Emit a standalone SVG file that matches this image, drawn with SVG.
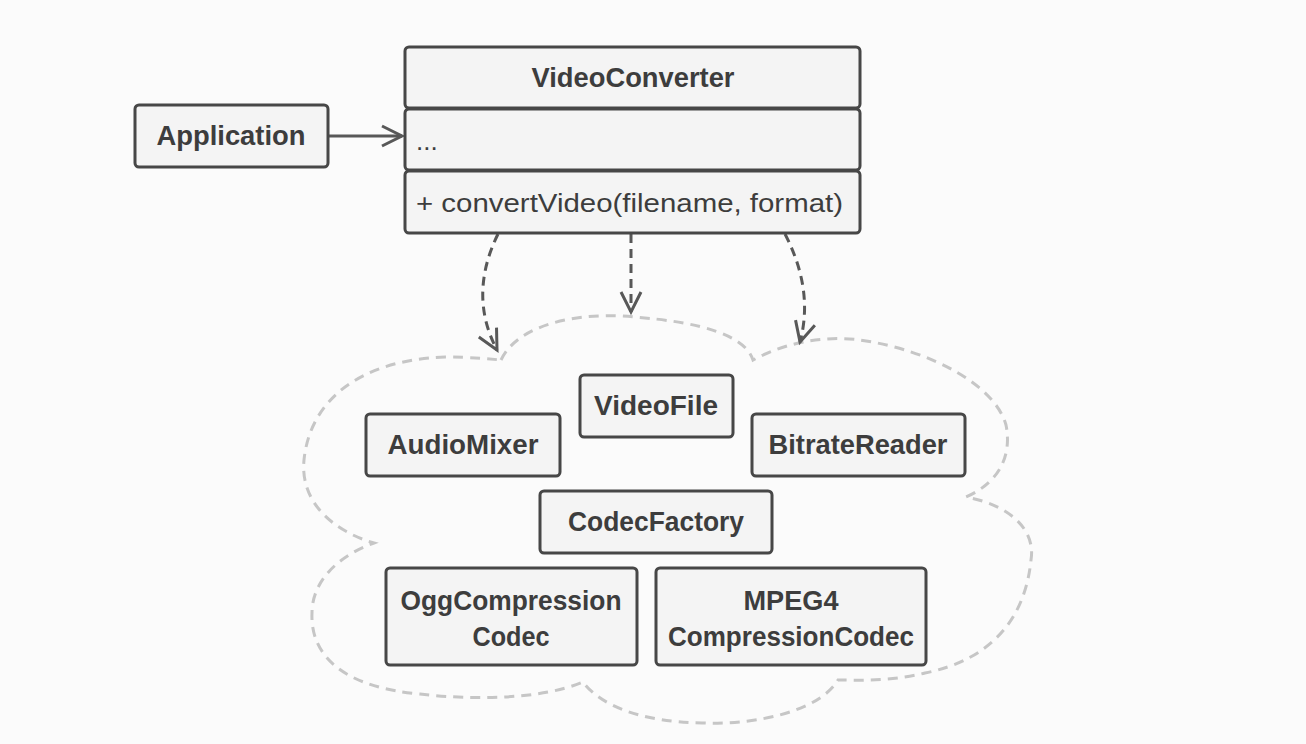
<svg xmlns="http://www.w3.org/2000/svg" width="1306" height="744" viewBox="0 0 1306 744">
<style>
.box{fill:#f4f4f4;stroke:#474747;stroke-width:3}
.t{font-family:"Liberation Sans",Arial,sans-serif;font-size:28px;font-weight:bold;fill:#3d3d3d;text-anchor:middle}
.r{font-family:"Liberation Sans",Arial,sans-serif;font-size:26px;fill:#3d3d3d}
.dep{fill:none;stroke:#585858;stroke-width:3;stroke-dasharray:9 6}
.cloud{fill:none;stroke:#c6c6c6;stroke-width:3;stroke-dasharray:10 7}
</style>
<defs>
<marker id="open" viewBox="-22 -12 26 24" refX="0" refY="0" markerWidth="26" markerHeight="24" markerUnits="userSpaceOnUse" orient="auto">
<path d="M-20,-10 L0,0 L-20,10" fill="none" stroke="#585858" stroke-width="3"/>
</marker>
</defs>
<rect width="1306" height="744" fill="#fbfbfb"/>
<g id="cloud">
<path class="cloud" d="M501,360 C520,320 590,312 634,317 C700,322 745,335 753,360 C790,340 830,336 860,340 C930,350 995,385 1006,425 C1012,455 1000,482 966,497 C1010,505 1036,530 1031,560 C1025,620 990,660 925,673 C890,682 850,680 838,680 C820,710 760,725 702,723 C640,722 600,705 583,682 C540,700 470,700 420,694 C350,688 310,660 312,613 C312,580 340,555 374,543 C330,530 300,500 304,460 C310,400 360,360 445,357 C470,357 490,359 501,360 Z"/>
</g>
<g id="connectors">
<line x1="329" y1="136" x2="402" y2="136" stroke="#585858" stroke-width="3" marker-end="url(#open)"/>
<path class="dep" d="M498,234 Q468,295 497,350" marker-end="url(#open)"/>
<path class="dep" d="M631,234 L631,312" marker-end="url(#open)"/>
<path class="dep" d="M785,234 Q814,290 800,342" marker-end="url(#open)"/>
</g>
<g id="application">
<rect class="box" x="135" y="105" width="193" height="62" rx="4"/>
<text class="t" x="231" y="145" textLength="149" lengthAdjust="spacingAndGlyphs">Application</text>
</g>
<g id="videoconverter">
<rect class="box" x="405" y="47" width="455" height="61" rx="4"/>
<rect class="box" x="405" y="109" width="455" height="61" rx="4"/>
<rect class="box" x="405" y="171" width="455" height="62" rx="4"/>
<text class="t" x="633" y="87" textLength="203" lengthAdjust="spacingAndGlyphs">VideoConverter</text>
<text class="r" x="416" y="150">...</text>
<text class="r" x="416" y="212" textLength="427" lengthAdjust="spacingAndGlyphs">+ convertVideo(filename, format)</text>
</g>
<g id="videofile">
<rect class="box" x="580" y="375" width="153" height="62" rx="4"/>
<text class="t" x="656" y="415" textLength="124" lengthAdjust="spacingAndGlyphs">VideoFile</text>
</g>
<g id="audiomixer">
<rect class="box" x="366" y="414" width="194" height="62" rx="4"/>
<text class="t" x="463" y="454" textLength="151" lengthAdjust="spacingAndGlyphs">AudioMixer</text>
</g>
<g id="bitratereader">
<rect class="box" x="752" y="414" width="213" height="62" rx="4"/>
<text class="t" x="858" y="454" textLength="179" lengthAdjust="spacingAndGlyphs">BitrateReader</text>
</g>
<g id="codecfactory">
<rect class="box" x="540" y="491" width="232" height="62" rx="4"/>
<text class="t" x="656" y="531" textLength="176" lengthAdjust="spacingAndGlyphs">CodecFactory</text>
</g>
<g id="oggcodec">
<rect class="box" x="386" y="568" width="251" height="97" rx="4"/>
<text class="t" x="511" y="610" textLength="221" lengthAdjust="spacingAndGlyphs">OggCompression</text>
<text class="t" x="511" y="646" textLength="77" lengthAdjust="spacingAndGlyphs">Codec</text>
</g>
<g id="mpeg4codec">
<rect class="box" x="656" y="568" width="270" height="97" rx="4"/>
<text class="t" x="791" y="610" textLength="95" lengthAdjust="spacingAndGlyphs">MPEG4</text>
<text class="t" x="791" y="646" textLength="246" lengthAdjust="spacingAndGlyphs">CompressionCodec</text>
</g>
</svg>
